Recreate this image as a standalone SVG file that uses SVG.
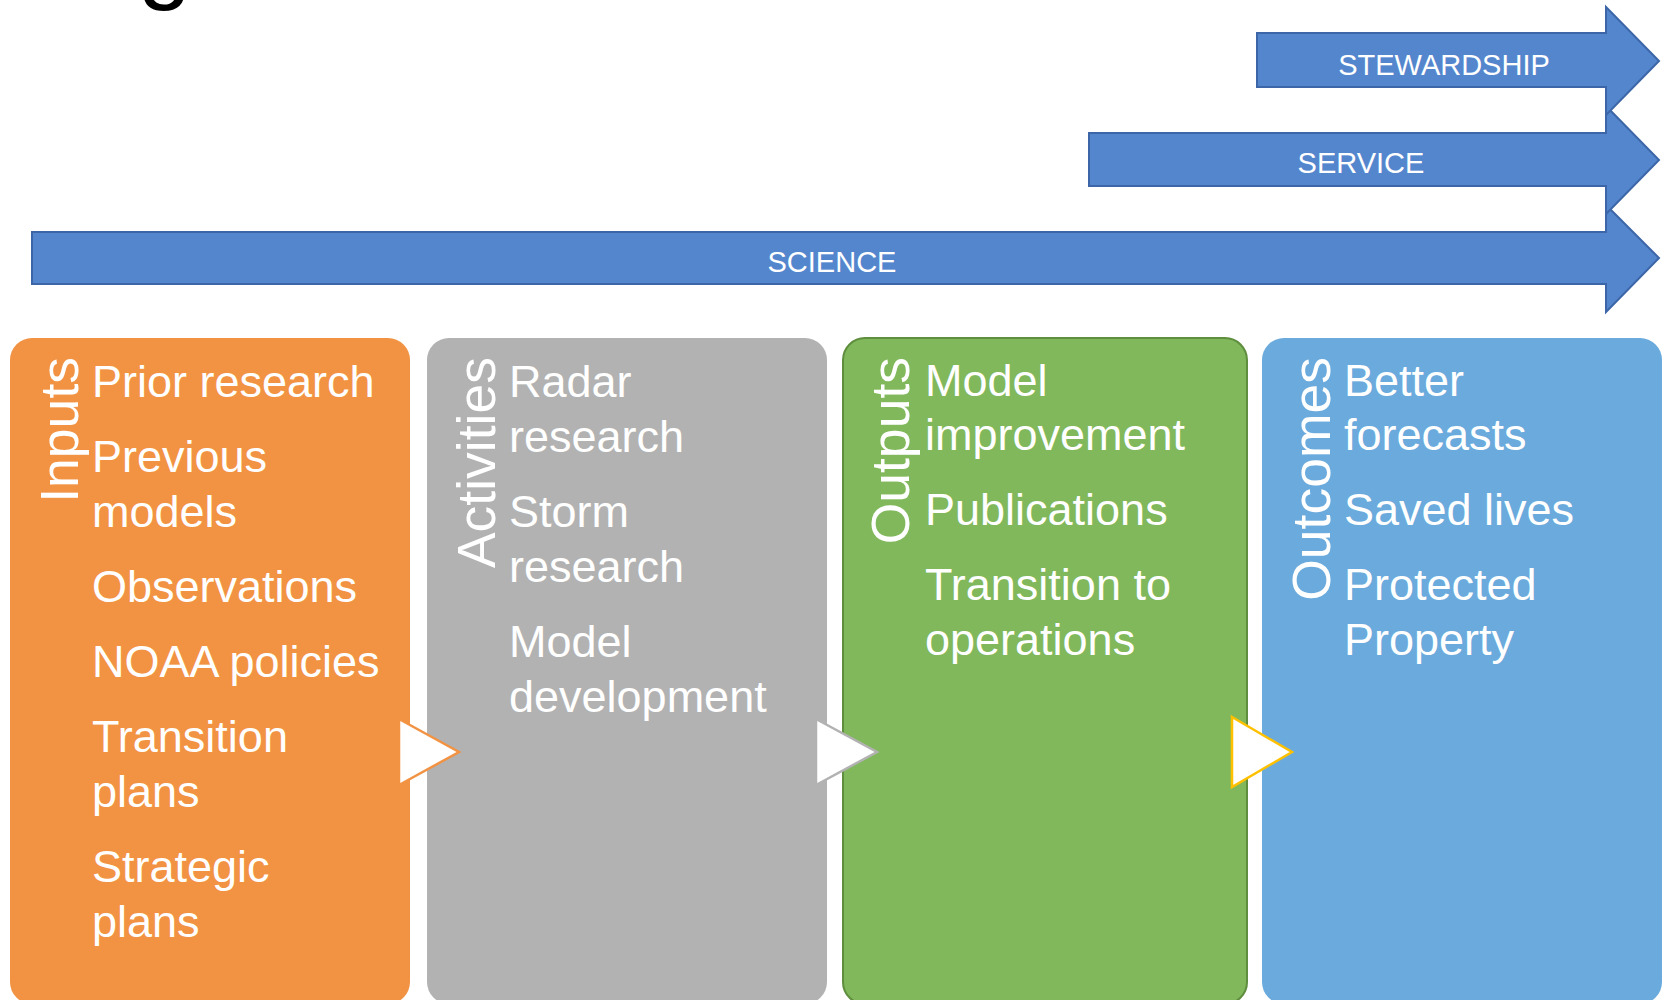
<svg xmlns="http://www.w3.org/2000/svg" width="1665" height="1000" viewBox="0 0 1665 1000">
<style>
.arrow{fill:#5486CE;stroke:#3C66A8;stroke-width:2}
.alabel{font-family:"Liberation Sans",Arial,sans-serif;font-size:29px;fill:#ffffff;text-anchor:middle}
.item{font-family:"Liberation Sans",Arial,sans-serif;font-size:45px;fill:#ffffff}
.vlabel{font-family:"Liberation Sans",Arial,sans-serif;font-size:53.5px;fill:#ffffff;text-anchor:end}
.tri{fill:#ffffff;stroke-width:2.5;stroke-linejoin:miter}
</style>
<rect x="0" y="0" width="1665" height="1000" fill="#ffffff"/>
<text x="138" y="-9" font-family="Liberation Sans,Arial,sans-serif" font-size="96" fill="#000000">g</text>

<g id="science">
<path class="arrow" d="M32,232 H1606 V205 L1659,258 L1606,312 V284 H32 Z"/>
<text class="alabel" x="832" y="272">SCIENCE</text>
</g>
<g id="service">
<path class="arrow" d="M1089,133 H1606 V106 L1659,160 L1606,214 V186 H1089 Z"/>
<text class="alabel" x="1361" y="173">SERVICE</text>
</g>
<g id="stewardship">
<path class="arrow" d="M1257,33 H1606 V7 L1659,61 L1606,115 V87 H1257 Z"/>
<text class="alabel" x="1444" y="75">STEWARDSHIP</text>
</g>

<g id="inputs">
<rect x="10" y="338" width="400" height="666" rx="22" fill="#F29343"/>
<text class="vlabel" transform="translate(78,357) rotate(-90)">Inputs</text>
<text class="item" x="92" y="397">Prior research</text>
<text class="item" x="92" y="472">Previous</text>
<text class="item" x="92" y="527">models</text>
<text class="item" x="92" y="602">Observations</text>
<text class="item" x="92" y="677">NOAA policies</text>
<text class="item" x="92" y="752">Transition</text>
<text class="item" x="92" y="807">plans</text>
<text class="item" x="92" y="882">Strategic</text>
<text class="item" x="92" y="937">plans</text>
</g>

<g id="activities">
<rect x="427" y="338" width="400" height="666" rx="22" fill="#B2B2B2"/>
<text class="vlabel" transform="translate(495,357) rotate(-90)">Activities</text>
<text class="item" x="509" y="397">Radar</text>
<text class="item" x="509" y="452">research</text>
<text class="item" x="509" y="527">Storm</text>
<text class="item" x="509" y="582">research</text>
<text class="item" x="509" y="657">Model</text>
<text class="item" x="509" y="712">development</text>
</g>

<g id="outputs">
<rect x="843" y="338" width="404" height="666" rx="22" fill="#81B85B" stroke="#5E8E3E" stroke-width="2"/>
<text class="vlabel" transform="translate(909,357) rotate(-90)">Outputs</text>
<text class="item" x="925" y="396">Model</text>
<text class="item" x="925" y="450">improvement</text>
<text class="item" x="925" y="525">Publications</text>
<text class="item" x="925" y="600">Transition to</text>
<text class="item" x="925" y="655">operations</text>
</g>

<g id="outcomes">
<rect x="1262" y="338" width="400" height="666" rx="22" fill="#6AAADC"/>
<text class="vlabel" transform="translate(1330,357) rotate(-90)">Outcomes</text>
<text class="item" x="1344" y="396">Better</text>
<text class="item" x="1344" y="450">forecasts</text>
<text class="item" x="1344" y="525">Saved lives</text>
<text class="item" x="1344" y="600">Protected</text>
<text class="item" x="1344" y="655">Property</text>
</g>

<g id="connectors">
<polygon class="tri" points="399,719 459,752 399,785" stroke="#F29343"/>
<polygon class="tri" points="816,719 877,752 816,785" stroke="#B2B2B2"/>
<polygon class="tri" points="1232,717 1292,752 1232,787" stroke="#FFC000" stroke-width="3"/>
</g>
</svg>
